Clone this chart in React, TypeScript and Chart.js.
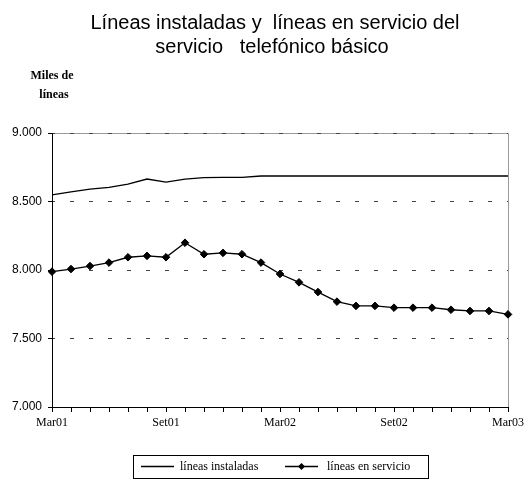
import React, { useEffect, useRef } from "react";
import { Chart, registerables } from "chart.js";

Chart.register(...registerables);

const categories = [
  "Mar01", "Abr01", "May01", "Jun01", "Jul01", "Ago01", "Set01", "Oct01", "Nov01", "Dic01", "Ene02", "Feb02",
  "Mar02", "Abr02", "May02", "Jun02", "Jul02", "Ago02", "Set02", "Oct02", "Nov02", "Dic02", "Ene03", "Feb03",
  "Mar03",
];
const shownLabels = ["Mar01", "Set01", "Mar02", "Set02", "Mar03"];

const lineasInstaladas = [
  8549, 8571, 8591, 8603, 8627, 8664, 8642, 8664, 8674, 8676, 8676, 8686,
  8686, 8686, 8686, 8686, 8686, 8686, 8686, 8686, 8686, 8686, 8686, 8686,
  8686,
];
const lineasEnServicio = [
  7988, 8007, 8029, 8054, 8093, 8103, 8093, 8199, 8115, 8125, 8115, 8054,
  7971, 7910, 7839, 7769, 7738, 7738, 7725, 7725, 7725, 7710, 7701, 7701,
  7676,
];

const titleLines = ["Líneas instaladas y  líneas en servicio del", "servicio   telefónico básico"];
const yTitleLines = ["Miles de", "líneas"];
const legendLabels = ["líneas instaladas", "líneas en servicio"];
const yMin = 7000;
const yMax = 9000;
const yStep = 500;

const fmt = (v: number) => {
  const s = String(Math.round(v));
  return s.length > 3 ? s.slice(0, s.length - 3) + "." + s.slice(s.length - 3) : s;
};

const decorPlugin = {
  id: "decor",
  beforeDraw(chart: any) {
    const { ctx, chartArea } = chart;
    ctx.save();
    ctx.strokeStyle = "#9a9a9a";
    ctx.lineWidth = 1;
    ctx.beginPath();
    ctx.moveTo(chartArea.left, chartArea.top + 0.5);
    ctx.lineTo(chartArea.right + 0.5, chartArea.top + 0.5);
    ctx.lineTo(chartArea.right + 0.5, chartArea.bottom);
    ctx.stroke();
    ctx.restore();
  },
  afterDraw(chart: any) {
    const { ctx } = chart;
    ctx.save();
    // Title
    ctx.fillStyle = "#000";
    ctx.textAlign = "center";
    ctx.textBaseline = "middle";
    ctx.font = '20px "Liberation Sans", Arial, sans-serif';
    ctx.fillText(titleLines[0], 275, 23);
    ctx.fillText(titleLines[1], 272, 47);
    // Y title
    ctx.font = 'bold 12px "Liberation Serif", serif';
    ctx.fillText(yTitleLines[0], 52, 76);
    ctx.fillText(yTitleLines[1], 54, 95);

    // Legend box
    const bx = 133, by = 455, bw = 295, bh = 23;
    ctx.strokeStyle = "#000";
    ctx.lineWidth = 1;
    ctx.strokeRect(bx + 0.5, by + 0.5, bw, bh);
    const cy = 466.5;
    ctx.lineWidth = 1.3;
    ctx.beginPath();
    ctx.moveTo(141, cy);
    ctx.lineTo(174, cy);
    ctx.stroke();
    ctx.beginPath();
    ctx.moveTo(285, cy);
    ctx.lineTo(318, cy);
    ctx.stroke();
    ctx.beginPath();
    ctx.moveTo(301.5, cy - 3.5);
    ctx.lineTo(305, cy);
    ctx.lineTo(301.5, cy + 3.5);
    ctx.lineTo(298, cy);
    ctx.closePath();
    ctx.fillStyle = "#000";
    ctx.fill();
    ctx.font = '12px "Liberation Serif", serif';
    ctx.textAlign = "left";
    ctx.fillText(legendLabels[0], 180, cy);
    ctx.fillText(legendLabels[1], 327, cy);
    ctx.restore();
  },
};

export default function App() {
  const ref = useRef<HTMLCanvasElement | null>(null);

  useEffect(() => {
    if (!ref.current) return;
    const chart = new Chart(ref.current, {
      type: "line",
      data: {
        labels: categories,
        datasets: [
          {
            label: legendLabels[0],
            data: lineasInstaladas,
            borderColor: "#000",
            borderWidth: 1.3,
            pointRadius: 0,
            tension: 0,
            fill: false,
          },
          {
            label: legendLabels[1],
            data: lineasEnServicio,
            borderColor: "#000",
            backgroundColor: "#000",
            borderWidth: 1.3,
            pointStyle: "rectRot",
            pointRadius: 3.8,
            pointBorderWidth: 1,
            tension: 0,
            fill: false,
          },
        ],
      },
      options: {
        responsive: false,
        animation: false,
        devicePixelRatio: 1,
        layout: { padding: { top: 133, right: 22, left: 0, bottom: 42 } },
        plugins: {
          legend: { display: false },
          title: { display: false },
          tooltip: { enabled: false },
        },
        scales: {
          x: {
            type: "category",
            offset: false,
            afterFit: (s: any) => {
              s.height = 30;
            },
            grid: {
              drawOnChartArea: false,
              drawTicks: true,
              tickLength: 5,
              tickColor: "#000",
              color: "#000",
              offset: false,
            },
            border: { display: true, color: "#000", width: 1 },
            ticks: {
              autoSkip: false,
              maxRotation: 0,
              minRotation: 0,
              padding: 4,
              color: "#000",
              font: { family: '"Liberation Serif", serif', size: 12 },
              callback: (_v: any, i: number) => (shownLabels.includes(categories[i]) ? categories[i] : ""),
            },
          },
          y: {
            min: yMin,
            max: yMax,
            afterFit: (s: any) => {
              s.width = 52;
            },
            ticks: {
              stepSize: yStep,
              padding: 6,
              color: "#000",
              font: { family: '"Liberation Sans", Arial, sans-serif', size: 12 },
              callback: (v: any) => fmt(Number(v)),
            },
            grid: {
              drawTicks: true,
              tickLength: 4,
              tickColor: "#000",
              lineWidth: 1,
              color: (c: any) => (c.tick && c.tick.value === yMin ? "rgba(0,0,0,0)" : "#444"),
            },
            border: { display: true, color: "#000", width: 1, dash: [4, 15], dashOffset: 2 },
          },
        },
      },
      plugins: [decorPlugin],
    });
    return () => chart.destroy();
  }, []);

  return (
    <div style={{ position: "absolute", left: 0, top: 0, width: 530, height: 479, background: "#fff" }}>
      <canvas ref={ref} width={530} height={479} style={{ display: "block" }} />
    </div>
  );
}
